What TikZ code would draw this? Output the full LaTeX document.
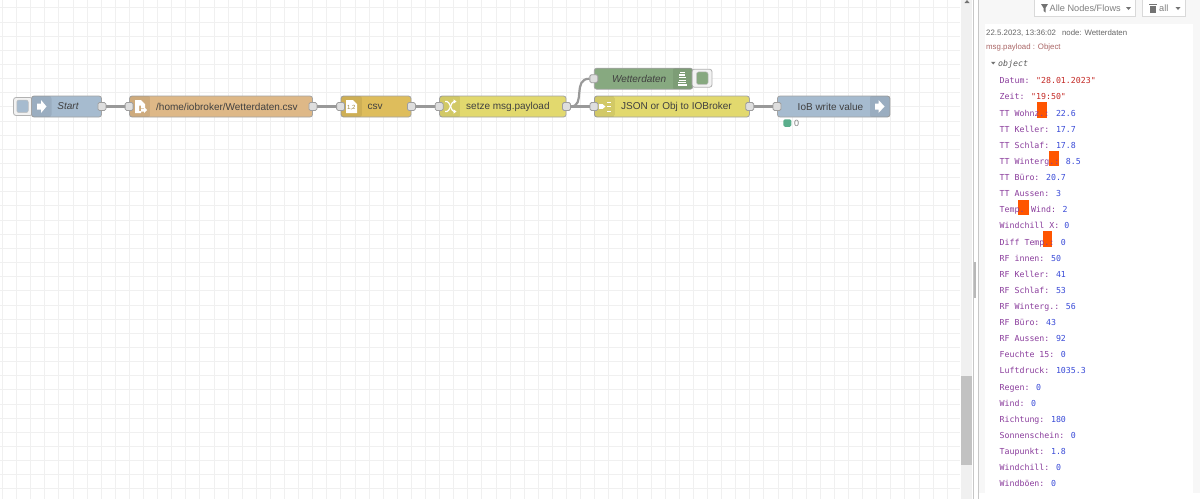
\documentclass[tikz,border=0pt]{standalone}
\usepackage{fontspec}
\setmainfont{Liberation Sans}
\newfontfamily\outfont{DejaVu Sans Mono}
\definecolor{gridcol}{HTML}{F0F0F0}
\definecolor{wirecol}{HTML}{999999}
\definecolor{injectcol}{HTML}{A6BBCF}
\definecolor{filecol}{HTML}{DEB887}
\definecolor{csvcol}{HTML}{DEBD5C}
\definecolor{funccol}{HTML}{E2D96E}
\definecolor{debugcol}{HTML}{87A980}
\definecolor{statcol}{HTML}{5BAE8C}
\definecolor{keycol}{HTML}{8A3C9C}
\definecolor{numcol}{HTML}{3A4BD8}
\definecolor{strcol}{HTML}{C42A26}
\definecolor{topiccol}{HTML}{AA6666}
\definecolor{redactcol}{HTML}{FF5500}
\tikzset{
	nrnode/.style={rectangle, rounded corners=2.5, draw=black!36, line width=.8, inner sep=0pt, minimum height=21},
	nrbutton/.style={rectangle, rounded corners=2.5, draw=black!30, fill=black!5, line width=.8, inner sep=0pt},
	nrport/.style={rectangle, rounded corners=1.5, draw=black!38, fill=black!13, line width=.8, inner sep=0pt, minimum size=8},
	nrtext/.style={inner sep=0pt, text=black!75, font=\fontsize{10}{12}\selectfont},
	wire/.style={draw=wirecol, line width=2.2},
	hdrtext/.style={inner sep=0pt, anchor=base west, font=\fontsize{7.85}{10}\selectfont},
	outline/.style={inner sep=0pt, anchor=base west, font=\outfont\fontsize{8.25}{10}\selectfont},
	iconpen/.style={white, line width=1.2}
}
\begin{document}
\begin{tikzpicture}[x=1pt, y=-1pt]
	\useasboundingbox (0,0) rectangle (1200,499);
	\fill[white] (0,0) rectangle (1200,499);
	\foreach \gx in {0,...,67} \draw[gridcol, line width=.9] ({2.5+14.1*\gx},0) -- ({2.5+14.1*\gx},499);
	\foreach \gy in {0,...,34} \draw[gridcol, line width=.9] (0,{7.8+14.15*\gy}) -- (960,{7.8+14.15*\gy});

	\fill[black!6] (960.5,0) rectangle (972,499);
	\fill[black!24] (960.5,376) rectangle (972,465);
	\fill[black!55] (964.5,3) -- (967,0) -- (969.5,3) -- cycle;
	\fill[white] (972,0) rectangle (978,499);
	\draw[black!22, line width=.8] (973,0) -- (973,499);
	\fill[black!28] (974.2,262) rectangle (976.2,298);
	\fill[black!3] (978,0) rectangle (1200,493);
	\draw[black!22, line width=.8] (978.5,0) -- (978.5,499);
	\fill[white] (985,24) rectangle (1193,493);

	\node[nrbutton, minimum width=19, minimum height=18] (startbtn) at (23,106.5) {};
	\node[rectangle, rounded corners=2, fill=injectcol, draw=black!25, line width=.5, inner sep=0pt, minimum width=11.5, minimum height=12.5] (startbtnin) at (22.5,106.3) {};
	\node[nrnode, fill=injectcol, minimum width=70] (start) at (66.5,106.5) {};
	\node[nrnode, fill=filecol, minimum width=183] (file) at (221,106.5) {};
	\node[nrnode, fill=csvcol, minimum width=70] (csv) at (376,106.5) {};
	\node[nrnode, fill=funccol, minimum width=126.5] (setze) at (502.8,106.5) {};
	\node[nrnode, fill=debugcol, minimum width=98.5] (debug) at (643.5,78.7) {};
	\node[nrbutton, minimum width=20, minimum height=18] (debugbtn) at (702,78.2) {};
	\node[rectangle, rounded corners=2, fill=debugcol, draw=black!25, line width=.5, inner sep=0pt, minimum width=11.5, minimum height=12.5] (debugbtnin) at (702.3,78.2) {};
	\node[nrnode, fill=funccol, minimum width=155] (json) at (671.9,106.5) {};
	\node[nrnode, fill=injectcol, minimum width=112.5] (iob) at (833.7,106.5) {};

	\foreach \ia/\ib/\ic in {31.5/51.5/96, 129.5/150.5/96, 341/362/96, 439.5/460.5/96, 594.4/615/96, 672.5/692.8/68.2, 869.5/890/96} {
		\begin{scope}
			\clip[rounded corners=2.5] (\ia,\ic) rectangle (\ib,\ic+21);
			\fill[black, fill opacity=.07] (\ia,\ic) rectangle (\ib,\ic+21);
		\end{scope}
	}

	\fill[white] (37,103.5) -- (41,103.5) -- (41,100) -- (46.5,106.5) -- (41,113) -- (41,109.5) -- (37,109.5) -- cycle;
	\fill[white] (135,100) -- (141,100) -- (145,104) -- (145,108) -- (141,108) -- (141,105.5) -- (139,105.5) -- (139,111) -- (141,111) -- (141,113) -- (135,113) -- cycle;
	\fill[white] (141,108.5) -- (144,108.5) -- (144,106.8) -- (147,110) -- (144,113.2) -- (144,111.5) -- (141,111.5) -- cycle;
	\fill[white] (346,100) -- (353,100) -- (357,104) -- (357,113) -- (346,113) -- cycle;
	\node[inner sep=0pt, text=csvcol!70!black, font=\fontsize{6}{7}\selectfont] (csvicon) at (351.3,107.3) {1,2};
	\draw[iconpen] (445,101.5) -- (447,101.5) .. controls (450,101.5) and (451,111.5) .. (454,111.5);
	\draw[iconpen] (445,111.5) -- (447,111.5) .. controls (450,111.5) and (451,101.5) .. (454,101.5);
	\fill[white] (453.5,99.3) -- (456.5,101.5) -- (453.5,103.7) -- cycle;
	\fill[white] (453.5,109.3) -- (456.5,111.5) -- (453.5,113.7) -- cycle;
	\fill[white] (599,104) rectangle (602.5,109);
	\fill[white] (603,104.5) -- (605.5,106.5) -- (603,108.5) -- cycle;
	\foreach \iy in {102,106.5,111} \fill[white] (607,\iy-.5) rectangle (611,\iy+.5);
	\foreach \iy/\iw in {72.4/5,75/6,77.6/6.5,80.2/7,82.8/8,85/8.5} \fill[white] ({682.4-\iw/2},\iy-.6) rectangle ({682.4+\iw/2},\iy+.6);
	\fill[white] (875,103.5) -- (878.5,103.5) -- (878.5,100) -- (884.5,106.5) -- (878.5,113) -- (878.5,109.5) -- (875,109.5) -- cycle;

	\node[nrtext, font=\fontsize{10}{12}\selectfont\itshape, anchor=center] (starttxt) at (68,106.5) {Start};
	\node[nrtext, anchor=west] (filetxt) at (156,106.5) {/home/iobroker/Wetterdaten.csv};
	\node[nrtext, anchor=west] (csvtxt) at (367.5,106.5) {csv};
	\node[nrtext, anchor=west] (setzetxt) at (466,106.5) {setze msg.payload};
	\node[nrtext, font=\fontsize{10}{12}\selectfont\itshape, anchor=east] (debugtxt) at (666.5,78.5) {Wetterdaten};
	\node[nrtext, anchor=west] (jsontxt) at (621,106.5) {JSON or Obj to IOBroker};
	\node[nrtext, anchor=east] (iobtxt) at (863.5,106.5) {IoB write value};
	\node[rectangle, rounded corners=1.5, fill=statcol, inner sep=0pt, minimum width=8, minimum height=7.5] (iobstat) at (787.3,123) {};
	\node[inner sep=0pt, anchor=west, text=black!50, font=\fontsize{9}{10}\selectfont] (iobstattxt) at (794,123.2) {0};

	\node[nrport] (startout) at (start.east) {};
	\node[nrport] (filein) at (file.west) {};
	\node[nrport] (fileout) at (file.east) {};
	\node[nrport] (csvin) at (csv.west) {};
	\node[nrport] (csvout) at (csv.east) {};
	\node[nrport] (setzein) at (setze.west) {};
	\node[nrport] (setzeout) at (setze.east) {};
	\node[nrport] (debugin) at (debug.west) {};
	\node[nrport] (jsonin) at (json.west) {};
	\node[nrport] (jsonout) at (json.east) {};
	\node[nrport] (iobin) at (iob.west) {};
	\draw[wire] (startout) -- (filein);
	\draw[wire] (fileout) -- (csvin);
	\draw[wire] (csvout) -- (setzein);
	\draw[wire] (setzeout) -- (jsonin);
	\draw[wire] (setzeout.east) .. controls (586,106.5) and (572,78.7) .. (debugin.west);
	\draw[wire] (jsonout) -- (iobin);

	\node[draw=black!15, fill=white, line width=.8, inner sep=0pt, minimum width=101.5, minimum height=17] (filterbtn) at (1084.8,7.5) {};
	\node[draw=black!15, fill=white, line width=.8, inner sep=0pt, minimum width=42.5, minimum height=17] (clearbtn) at (1163.8,7.5) {};
	\fill[black!55] (1041,4) -- (1048,4) -- (1045.5,8) -- (1045.5,12.5) -- (1043.5,11) -- (1043.5,8) -- cycle;
	\node[inner sep=0pt, anchor=base west, text=black!50, font=\fontsize{9.2}{11}\selectfont] (filtertxt) at (1049.5,11.5) {Alle Nodes/Flows};
	\fill[black!55] (1126,7) -- (1131,7) -- (1128.5,10) -- cycle;
	\fill[black!55] (1150,5.5) rectangle (1156,12.5);
	\fill[black!55] (1149,3.8) rectangle (1157,4.8);
	\node[inner sep=0pt, anchor=base west, text=black!50, font=\fontsize{9.2}{11}\selectfont] (cleartxt) at (1159,11.5) {all};
	\fill[black!55] (1175.5,7) -- (1180.5,7) -- (1178,10) -- cycle;

	\node[hdrtext, text=black!60] (stamptxt) at (986,35) {22.5.2023, 13:36:02\hspace{6pt}node: Wetterdaten};
	\node[hdrtext, text=topiccol] (topictxt) at (986,49) {msg.payload : Object};
	\fill[black!55] (991,61.8) -- (995.5,61.8) -- (993.2,64.5) -- cycle;
	\node[outline, text=black!65, font=\outfont\itshape\fontsize{8.25}{10}\selectfont] (objtxt) at (998,66.5) {object};

	\fill[redactcol] (1037.3,101.7) rectangle (1047,117.7);
	\fill[redactcol] (1049,150.7) rectangle (1058.7,166);
	\fill[redactcol] (1018.3,200) rectangle (1029,215.3);
	\fill[redactcol] (1043.3,231.3) rectangle (1052.3,246.7);

	\foreach \okey/\oval/\ocol [count=\i from 0] in {
		Datum/"28.01.2023"/strcol, Zeit/"19:50"/strcol, TT Wohnz./22.6/numcol, TT Keller/17.7/numcol,
		TT Schlaf/17.8/numcol, TT Winterg./8.5/numcol, TT Büro/20.7/numcol, TT Aussen/3/numcol,
		Temp. Wind/2/numcol, Windchill X/0/numcol, Diff Temp./0/numcol, RF innen/50/numcol,
		RF Keller/41/numcol, RF Schlaf/53/numcol, RF Winterg./56/numcol, RF Büro/43/numcol,
		RF Aussen/92/numcol, Feuchte 15/0/numcol, Luftdruck/1035.3/numcol, Regen/0/numcol,
		Wind/0/numcol, Richtung/180/numcol, Sonnenschein/0/numcol, Taupunkt/1.8/numcol,
		Windchill/0/numcol, Windböen/0/numcol}
		\node[outline] (out\i) at (999.5,{83.8+16.12*\i}) {\textcolor{keycol}{\okey:} \textcolor{\ocol}{\oval}};
\end{tikzpicture}
\end{document}
